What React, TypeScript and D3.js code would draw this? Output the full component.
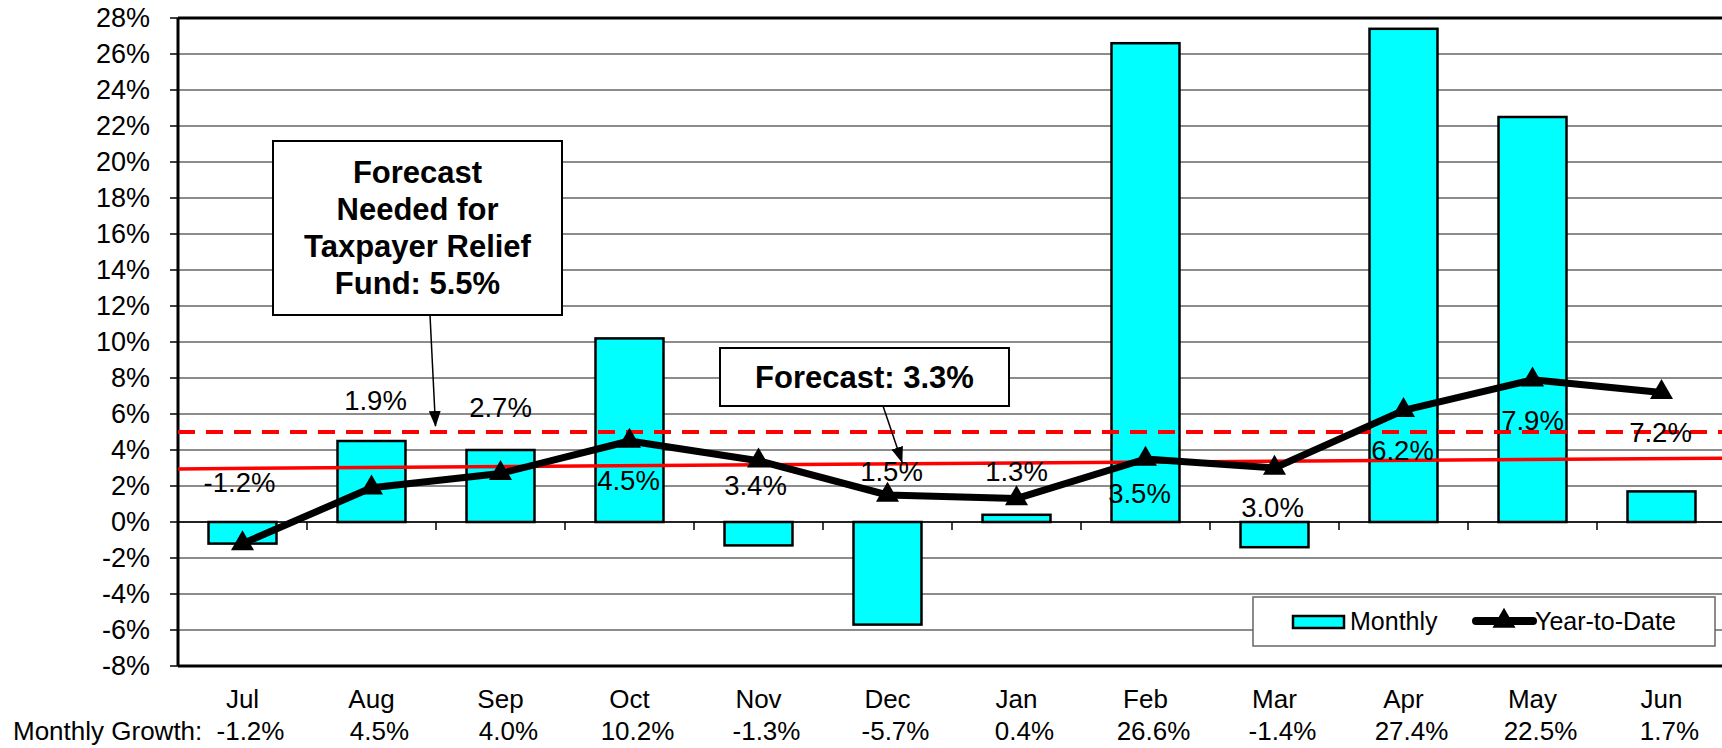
import React from 'react';
import * as d3 from 'd3';

const months = ['Jul', 'Aug', 'Sep', 'Oct', 'Nov', 'Dec', 'Jan', 'Feb', 'Mar', 'Apr', 'May', 'Jun'];
const monthlyGrowth = [-1.2, 4.5, 4.0, 10.2, -1.3, -5.7, 0.4, 26.6, -1.4, 27.4, 22.5, 1.7];
const yearToDate = [-1.2, 1.9, 2.7, 4.5, 3.4, 1.5, 1.3, 3.5, 3.0, 6.2, 7.9, 7.2];
const yTicks = [-8, -6, -4, -2, 0, 2, 4, 6, 8, 10, 12, 14, 16, 18, 20, 22, 24, 26, 28];
const forecastTrend = [2.95, 3.55]; // red solid line, left end / right end
const reliefLevel = 5.0; // red dashed line
const reliefNote = ['Forecast', 'Needed for', 'Taxpayer Relief', 'Fund: 5.5%'];
const forecastNote = 'Forecast: 3.3%';

// hand placed data labels in the original, [dx, dy] from the point in px
const ytdLabelOffset: [number, number][] = [
  [-3, -52], [4, -78], [0, -56], [-1, 49], [-3, 34], [4, -14],
  [0, -18], [-6, 44], [-2, 49], [-1, 50], [0, 50], [-1, 50],
];

const W = 1722;
const H = 748;
const FONT = '"Liberation Sans", Arial, sans-serif';
const CYAN = '#00ffff';

const fmt = (v: number) => `${v.toFixed(1)}%`;

export default function App() {
  const x = d3.scaleBand<string>().domain(months).range([178, 1726]);
  const y = d3.scaleLinear().domain([-8, 28]).range([666, 18]);
  const [x0, x1] = x.range();
  const cx = (m: string) => (x(m) as number) + x.bandwidth() / 2;
  const barW = x.bandwidth() * 0.527;

  const ytdPts = months.map((m, i) => ({ m, v: yearToDate[i] }));
  const ytdLine = d3.line<{ m: string; v: number }>()
    .x(d => cx(d.m))
    .y(d => y(d.v));

  const trend = d3.line<number>()
    .x((_, i) => (i === 0 ? x0 : x1))
    .y(d => y(d));

  const tri = d3.symbol(d3.symbolTriangle, 230)() as string;

  return (
    <svg width={W} height={H} style={{ position: 'absolute', left: 0, top: 0, background: '#fff' }}
      fontFamily={FONT}>
      <defs>
        <marker id="arrow" viewBox="0 0 16 12" refX="15" refY="6" markerWidth="16" markerHeight="12"
          markerUnits="userSpaceOnUse" orient="auto">
          <path d="M0,0 L16,6 L0,12 Z" fill="#000" />
        </marker>
      </defs>

      {/* gridlines */}
      {yTicks.filter(t => t > -8 && t < 28).map(t => (
        <line key={t} x1={x0} x2={W} y1={y(t)} y2={y(t)} stroke="#666" strokeWidth={1.5} />
      ))}

      {/* y axis ticks and labels */}
      {yTicks.map(t => (
        <g key={t}>
          <line x1={x0 - 8} x2={x0} y1={y(t)} y2={y(t)} stroke="#000" strokeWidth={1.5} />
          <text x={150} y={y(t)} dy="0.35em" textAnchor="end" fontSize={27}>{t}%</text>
        </g>
      ))}

      {/* bars */}
      {months.map((m, i) => {
        const v = monthlyGrowth[i];
        return (
          <rect key={m} x={cx(m) - barW / 2} width={barW}
            y={y(Math.max(0, v))} height={Math.abs(y(v) - y(0))}
            fill={CYAN} stroke="#000" strokeWidth={2.5} />
        );
      })}

      {/* zero line with category ticks */}
      <line x1={x0} x2={W} y1={y(0)} y2={y(0)} stroke="#000" strokeWidth={1.5} />
      {months.slice(1).map(m => (
        <line key={m} x1={x(m)} x2={x(m)} y1={y(0)} y2={y(0) + 8} stroke="#000" strokeWidth={1.5} />
      ))}

      {/* frame */}
      <line x1={x0} x2={W} y1={y(28)} y2={y(28)} stroke="#000" strokeWidth={3} />
      <line x1={x0} x2={W} y1={y(-8)} y2={y(-8)} stroke="#000" strokeWidth={3} />
      <line x1={x0} x2={x0} y1={y(28)} y2={y(-8)} stroke="#000" strokeWidth={3} />

      {/* forecast lines */}
      <line x1={x0} x2={W} y1={y(reliefLevel)} y2={y(reliefLevel)} stroke="#ff0000" strokeWidth={4}
        strokeDasharray="17,11" />
      <path d={trend(forecastTrend) as string} fill="none" stroke="#ff0000" strokeWidth={3.5} />

      {/* year to date */}
      <path d={ytdLine(ytdPts) as string} fill="none" stroke="#000" strokeWidth={7} strokeLinejoin="round" />
      {ytdPts.map(d => (
        <path key={d.m} d={tri} transform={`translate(${cx(d.m)},${y(d.v)})`} fill="#000" />
      ))}
      {ytdPts.map((d, i) => (
        <text key={d.m} x={cx(d.m) + ytdLabelOffset[i][0]} y={y(d.v) + ytdLabelOffset[i][1]}
          textAnchor="middle" fontSize={27.5}>{fmt(d.v)}</text>
      ))}

      {/* annotation: relief fund */}
      <rect x={273} y={141} width={289} height={174} fill="#fff" stroke="#000" strokeWidth={2} />
      {reliefNote.map((s, i) => (
        <text key={s} x={417.5} y={183 + i * 37} textAnchor="middle" fontSize={31} fontWeight="bold">{s}</text>
      ))}
      <line x1={430} y1={315} x2={435.5} y2={y(reliefLevel) - 6} stroke="#000" strokeWidth={1.5}
        markerEnd="url(#arrow)" />

      {/* annotation: forecast */}
      <rect x={720} y={348} width={289} height={58} fill="#fff" stroke="#000" strokeWidth={2} />
      <text x={864.5} y={388} textAnchor="middle" fontSize={31} fontWeight="bold">{forecastNote}</text>
      <line x1={883} y1={406} x2={902} y2={462} stroke="#000" strokeWidth={1.5} markerEnd="url(#arrow)" />

      {/* legend */}
      <rect x={1253} y={597} width={462} height={49} fill="#fff" stroke="#666" strokeWidth={1.5} />
      <rect x={1293} y={616} width={51} height={12} fill={CYAN} stroke="#000" strokeWidth={2.5} />
      <text x={1350} y={630} fontSize={25}>Monthly</text>
      <line x1={1476} x2={1533} y1={621} y2={621} stroke="#000" strokeWidth={8} strokeLinecap="round" />
      <path d={tri} transform="translate(1504,621)" fill="#000" />
      <text x={1535} y={630} fontSize={25}>Year-to-Date</text>

      {/* category labels */}
      {months.map(m => (
        <text key={m} x={cx(m)} y={708} textAnchor="middle" fontSize={26}>{m}</text>
      ))}
      <text x={13} y={740} fontSize={26}>Monthly Growth:</text>
      {months.map((m, i) => (
        <text key={m} x={cx(m) + 8} y={740} textAnchor="middle" fontSize={26}>{fmt(monthlyGrowth[i])}</text>
      ))}
    </svg>
  );
}
